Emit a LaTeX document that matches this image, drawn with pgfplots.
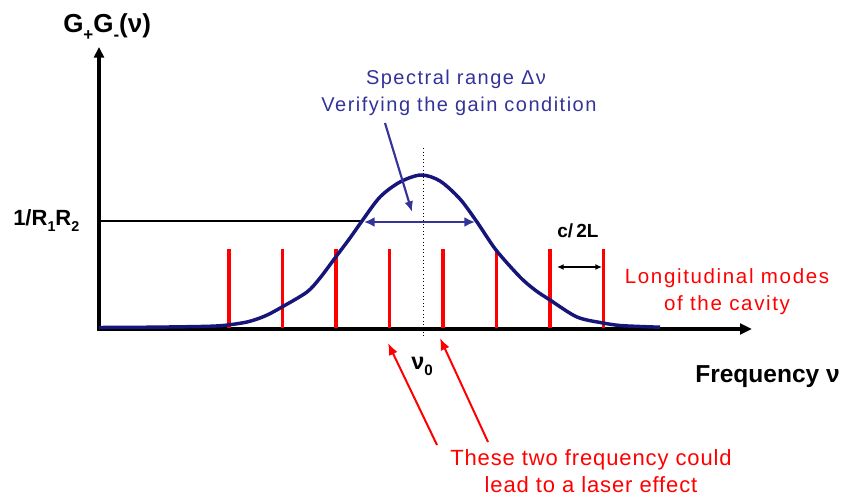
\documentclass[border=0pt]{standalone}
\usepackage{fontspec}
\setmainfont{Liberation Sans}
\usepackage{pgfplots}
\pgfplotsset{compat=1.18}
\usetikzlibrary{arrows.meta}
\definecolor{navy}{RGB}{22,22,122}
\definecolor{specblue}{RGB}{51,51,153}
\newcommand{\fs}[1]{\fontsize{#1pt}{#1pt}\selectfont}
\newcommand{\sub}[1]{\raisebox{-0.28em}{\scalebox{0.65}{#1}}}
\begin{document}
\begin{tikzpicture}
\begin{axis}[scale only axis, width=636pt, height=371.25pt,
  xmin=0, xmax=848, ymin=0, ymax=495, y dir=reverse,
  hide axis, clip=false]
\path (rel axis cs:0,0) rectangle (rel axis cs:1,1);
% reference level 1/R1R2
\addplot[black, line width=0.9pt] coordinates {(99,221) (362,221)};
% dotted nu0 line
\addplot[black, line width=0.7pt, dotted] coordinates {(423,148) (423,338)};
% axes
\draw[black, line width=2.9pt, -{Triangle[length=8pt,width=7.5pt]}] (99,330.5) -- (99,47);
\draw[black, line width=2.9pt, -{Triangle[length=9pt,width=8pt]}] (97.5,329) -- (752,329);
% longitudinal modes
\addplot[red, line width=2.6pt] coordinates {(229,249) (229,328)};
\addplot[red, line width=2.6pt] coordinates {(282.5,249) (282.5,328)};
\addplot[red, line width=2.6pt] coordinates {(336,249) (336,328)};
\addplot[red, line width=2.6pt] coordinates {(389.5,249) (389.5,328)};
\addplot[red, line width=2.6pt] coordinates {(443,249) (443,328)};
\addplot[red, line width=2.6pt] coordinates {(496.5,249) (496.5,328)};
\addplot[red, line width=2.6pt] coordinates {(550,249) (550,328)};
\addplot[red, line width=2.6pt] coordinates {(603.5,249) (603.5,328)};
% gain curve
\addplot[navy, line width=2.6pt, smooth, tension=0.5] coordinates {
 (99,327.5) (150,327.2) (200,326.5) (223,325.5) (247,322) (265,316) (282,307)
 (307,292) (320,278) (335,258) (350,238) (362,221) (380,197) (400,182)
 (421,175) (440,181) (460,199) (477,222) (496,250) (520,277) (535,290)
 (550,300) (577,317) (603,323) (620,325.5) (640,326.5) (660,327.2)};
% spectral range arrows
\draw[specblue, line width=2.2pt, {Latex[length=8pt,width=7.5pt]}-{Latex[length=8pt,width=7.5pt]}] (364,222) -- (475,222);
\draw[specblue, line width=1.6pt, -{Latex[length=8pt,width=6.5pt]}] (385,123) -- (412,212);
% c/2L arrow
\draw[black, line width=1.1pt, {Latex[length=5pt,width=4.5pt]}-{Latex[length=5pt,width=4.5pt]}] (557,267) -- (602,267);
% red arrows
\draw[red, line width=1.5pt, -{Latex[length=9pt,width=7pt]}] (437,445) -- (388,343);
\draw[red, line width=1.5pt, -{Latex[length=9pt,width=7pt]}] (488,442) -- (440,338);
% texts
\node[anchor=base west, inner sep=0pt, font=\fs{19.5}\bfseries] at (63,33) {G\sub{+}G\sub{-}(ν)};
\node[anchor=base west, inner sep=0pt, font=\fs{16.5}\bfseries] at (13,225) {1/R\sub{1}R\sub{2}};
\node[anchor=base, inner sep=0pt, text=specblue, font=\fs{15}\addfontfeatures{LetterSpace=7.5}] at (456,85) {Spectral range Δν};
\node[anchor=base, inner sep=0pt, text=specblue, font=\fs{15}\addfontfeatures{LetterSpace=7.5}] at (459,112) {Verifying the gain condition};
\node[anchor=base, inner sep=0pt, font=\fs{14.25}\bfseries] at (578,238) {c/\,2L};
\node[anchor=base, inner sep=0pt, text=red, font=\fs{15.4}\addfontfeatures{LetterSpace=8}] at (727,283) {Longitudinal modes};
\node[anchor=base, inner sep=0pt, text=red, font=\fs{15.4}\addfontfeatures{LetterSpace=8}] at (727,310) {of the cavity};
\node[anchor=base west, inner sep=0pt, font=\fs{18.4}\bfseries] at (695,382) {Frequency ν};
\node[anchor=base west, inner sep=0pt, font=\fs{17.5}\bfseries] at (411,369) {ν\sub{0}};
\node[anchor=base, inner sep=0pt, text=red, font=\fs{16.5}\addfontfeatures{LetterSpace=4}] at (591,465) {These two frequency could};
\node[anchor=base, inner sep=0pt, text=red, font=\fs{16.5}\addfontfeatures{LetterSpace=4}] at (591,492) {lead to a laser effect};
\end{axis}
\end{tikzpicture}
\end{document}
